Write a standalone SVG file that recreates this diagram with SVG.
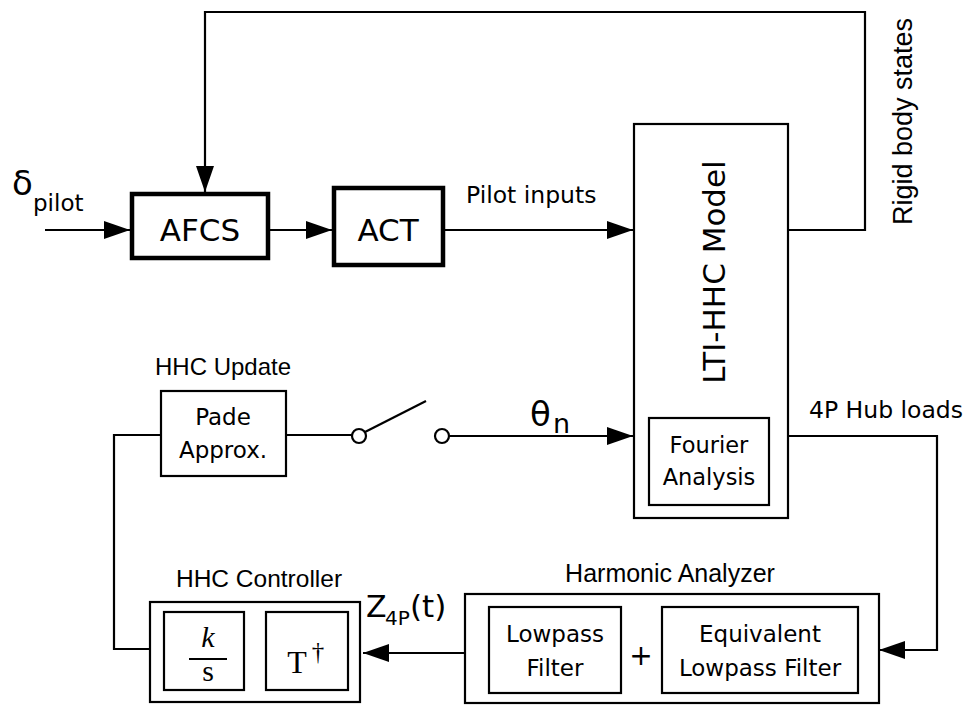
<svg xmlns="http://www.w3.org/2000/svg" width="971" height="707" viewBox="0 0 971 707">
<style>
.box{fill:#fff;stroke:#000;stroke-width:2.2}
.thick{fill:#fff;stroke:#000;stroke-width:4.5}
.ln{fill:none;stroke:#000;stroke-width:2.2}
.t{font-family:"DejaVu Sans",sans-serif;fill:#000}
.h{font-family:"Liberation Sans",Arial,sans-serif;fill:#000}
.s{font-family:"Liberation Serif","Times New Roman",serif;fill:#000}
</style>
<defs>
<marker id="ah" markerUnits="userSpaceOnUse" markerWidth="27" markerHeight="20" refX="26" refY="10" orient="auto" viewBox="0 0 27 20">
<path d="M0,1 L26,10 L0,19 z" fill="#000"/>
</marker>
</defs>
<rect width="971" height="707" fill="#fff"/>
<g id="connectors">
<line class="ln" x1="45" y1="230" x2="130" y2="230" marker-end="url(#ah)"/>
<line class="ln" x1="270" y1="230" x2="332" y2="230" marker-end="url(#ah)"/>
<line class="ln" x1="445" y1="230" x2="633" y2="230" marker-end="url(#ah)"/>
<polyline class="ln" points="788,230 865,230 865,12 205,12 205,192" marker-end="url(#ah)"/>
<polyline class="ln" points="788,436 937,436 937,650 879,650" marker-end="url(#ah)"/>
<line class="ln" x1="465" y1="653" x2="363" y2="653" marker-end="url(#ah)"/>
<polyline class="ln" points="150,649 114,649 114,435 161,435"/>
<line class="ln" x1="286" y1="435" x2="352" y2="435"/>
<line class="ln" x1="365" y1="432" x2="426" y2="401"/>
<circle class="box" cx="359" cy="436" r="7"/>
<circle class="box" cx="442" cy="436" r="7"/>
<line class="ln" x1="449" y1="436" x2="633" y2="436" marker-end="url(#ah)"/>
</g>
<g id="delta-label">
<text class="t" x="12" y="195" font-size="34">δ</text>
<text class="t" x="33" y="211" font-size="23">pilot</text>
</g>
<g id="afcs">
<rect class="thick" x="132" y="194" width="136" height="64"/>
<text class="t" x="200" y="241" font-size="31" text-anchor="middle">AFCS</text>
</g>
<g id="act">
<rect class="thick" x="334" y="188" width="109" height="77"/>
<text class="t" x="388" y="241" font-size="31" text-anchor="middle">ACT</text>
</g>
<text class="t" x="466" y="203" font-size="23.5">Pilot inputs</text>
<text class="h" transform="translate(912,225) rotate(-90)" font-size="27">Rigid body states</text>
<g id="lti-hhc">
<rect class="box" x="634" y="124" width="154" height="394"/>
<text class="t" transform="translate(725,272) rotate(-90)" font-size="31" text-anchor="middle">LTI-HHC Model</text>
<rect class="box" x="649" y="418" width="120" height="87"/>
<text class="t" x="709" y="453" font-size="22.5" text-anchor="middle">Fourier</text>
<text class="t" x="709" y="485" font-size="22.5" text-anchor="middle">Analysis</text>
</g>
<text class="t" x="809" y="418" font-size="23.5">4P Hub loads</text>
<g id="pade">
<text class="h" x="223" y="375" font-size="24" text-anchor="middle">HHC Update</text>
<rect class="box" x="161" y="391" width="125" height="85"/>
<text class="t" x="223" y="425" font-size="23" text-anchor="middle">Pade</text>
<text class="t" x="223" y="458" font-size="23" text-anchor="middle">Approx.</text>
</g>
<g id="theta-label">
<text class="t" x="530" y="426" font-size="34">θ</text>
<text class="t" x="553" y="433" font-size="27">n</text>
</g>
<g id="hhc-controller">
<text class="h" x="259" y="587" font-size="24.5" text-anchor="middle">HHC Controller</text>
<rect class="box" x="150" y="602" width="210" height="100"/>
<rect class="box" x="164" y="612" width="80" height="78"/>
<text class="s" x="208" y="647" font-size="30" font-style="italic" text-anchor="middle">k</text>
<line class="ln" x1="189" y1="659" x2="227" y2="659"/>
<text class="s" x="208" y="681" font-size="30" text-anchor="middle">s</text>
<rect class="box" x="266" y="612" width="82" height="78"/>
<text class="s" x="297" y="673" font-size="32" text-anchor="middle">T</text>
<text class="s" x="318" y="660" font-size="25" text-anchor="middle">†</text>
</g>
<g id="z-label">
<text class="t" x="366" y="617" font-size="30">Z</text>
<text class="t" x="385" y="625" font-size="20">4P</text>
<text class="t" x="410" y="617" font-size="31">(t)</text>
</g>
<g id="harmonic-analyzer">
<text class="h" x="670" y="582" font-size="25" text-anchor="middle">Harmonic Analyzer</text>
<rect class="box" x="465" y="594" width="414" height="109"/>
<rect class="box" x="489" y="607" width="132" height="86"/>
<text class="t" x="555" y="642" font-size="23" text-anchor="middle">Lowpass</text>
<text class="t" x="555" y="676" font-size="23" text-anchor="middle">Filter</text>
<text class="t" x="641" y="665" font-size="28" text-anchor="middle">+</text>
<rect class="box" x="662" y="607" width="196" height="86"/>
<text class="t" x="760" y="642" font-size="23" text-anchor="middle">Equivalent</text>
<text class="t" x="760" y="676" font-size="23" text-anchor="middle">Lowpass Filter</text>
</g>
</svg>
